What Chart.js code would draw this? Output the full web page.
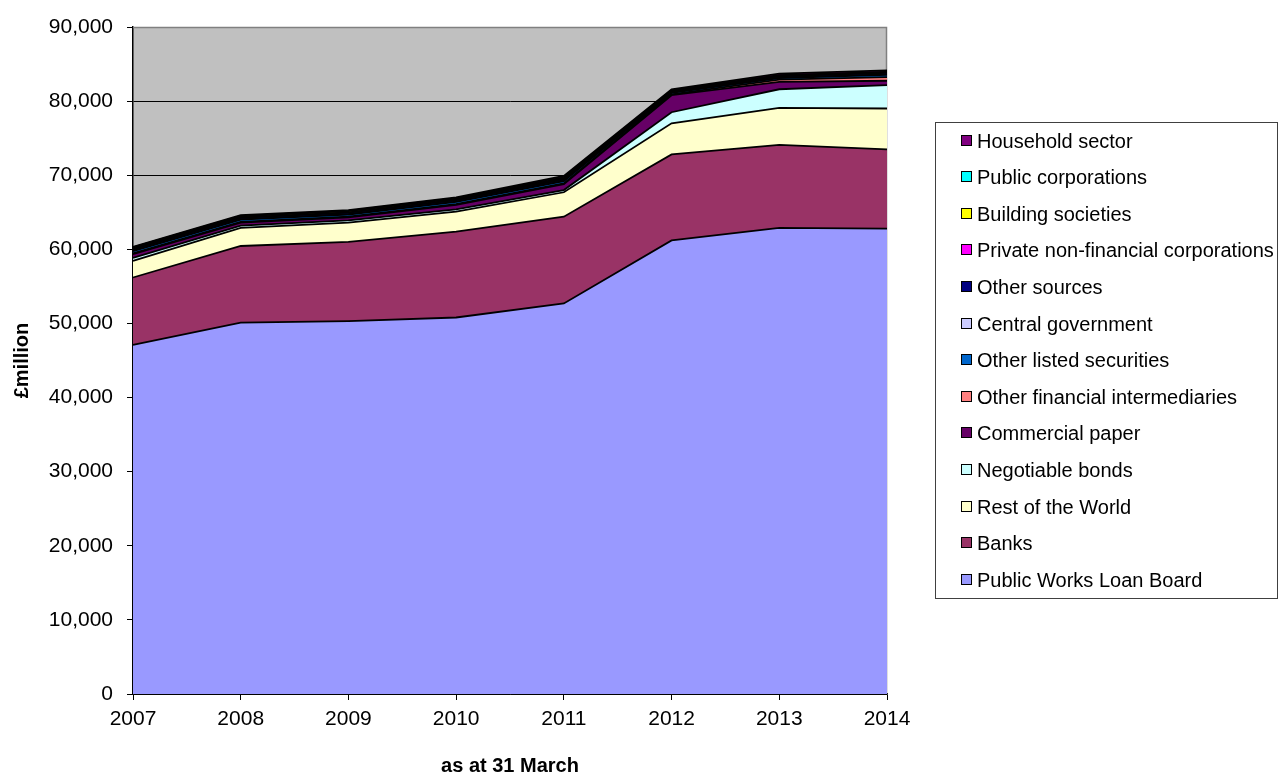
<!DOCTYPE html>
<html><head><meta charset="utf-8">
<script src="https://cdn.jsdelivr.net/npm/chart.js@4/dist/chart.umd.min.js"></script>
<style>
html,body{margin:0;padding:0;background:#fff;}
#wrap{position:relative;width:1279px;height:774px;}
#legend{position:absolute;left:935px;top:122px;width:343px;height:477px;border:1px solid #404040;box-sizing:border-box;font-family:'Liberation Sans',Arial,sans-serif;font-size:20px;color:#000;}
.item{position:absolute;left:0;height:24px;line-height:24px;white-space:nowrap;}
.sw{position:absolute;left:25px;top:6px;width:9px;height:9px;border:1px solid #000;}
.lb{position:absolute;left:41px;top:0;}
</style></head>
<body>
<div id="wrap">
<canvas id="c" width="1279" height="774"></canvas>
<div id="legend"></div>
</div>
<script>
const years = ['2007','2008','2009','2010','2011','2012','2013','2014'];
const yTicks = [0,10000,20000,30000,40000,50000,60000,70000,80000,90000];

const pwlb        = [47100, 50100, 50300, 50800, 52700, 61200, 62900, 62800];
const banks       = [9100, 10350, 10700, 11600, 11700, 11600, 11200, 10700];
const restWorld   = [2250, 2450, 2600, 2700, 3300, 4200, 5000, 5500];
const negBonds    = [400, 300, 300, 300, 300, 1500, 2500, 3150];
const commPaper   = [500, 400, 400, 600, 800, 2300, 1000, 600];
const otherFin    = [100, 100, 100, 100, 100, 100, 300, 500];
const otherListed = [300, 300, 300, 300, 300, 200, 200, 300];
const centralGov  = [50, 50, 50, 50, 50, 50, 50, 50];
const otherSrc    = [200, 200, 200, 200, 200, 100, 200, 200];
const privNFC     = [50, 50, 50, 50, 50, 50, 50, 50];
const buildSoc    = [150, 150, 150, 150, 150, 100, 50, 50];
const publicCorp  = [50, 50, 50, 50, 50, 50, 50, 50];
const household   = [100, 100, 100, 100, 200, 150, 200, 200];

const seriesNames = ['Public Works Loan Board','Banks','Rest of the World','Negotiable bonds','Commercial paper','Other financial intermediaries','Other listed securities','Central government','Other sources','Private non-financial corporations','Building societies','Public corporations','Household sector'];
const seriesData = [pwlb, banks, restWorld, negBonds, commPaper, otherFin, otherListed, centralGov, otherSrc, privNFC, buildSoc, publicCorp, household];
const seriesColors = ['#9999FF','#993366','#FFFFCC','#CCFFFF','#660066','#FF8080','#0066CC','#CCCCFF','#000080','#FF00FF','#FFFF00','#00FFFF','#800080'];

const datasets = seriesNames.map((n,i)=>({
  label: n,
  data: seriesData[i],
  backgroundColor: seriesColors[i],
  borderColor: '#000',
  borderWidth: 1.8,
  pointRadius: 0,
  pointHoverRadius: 0,
  tension: 0,
  fill: i === 0 ? 'origin' : '-1'
}));

const bgPlugin = {
  id: 'bg',
  beforeDraw(chart){
    const {ctx, chartArea:a} = chart;
    ctx.save();
    ctx.fillStyle = '#C0C0C0';
    ctx.fillRect(a.left, a.top, a.right-a.left, a.bottom-a.top);
    ctx.restore();
  },
  beforeDatasetsDraw(chart){
    const {ctx, chartArea:a} = chart;
    ctx.save();
    ctx.strokeStyle = '#808080';
    ctx.lineWidth = 1.5;
    ctx.beginPath();
    ctx.moveTo(a.left, a.top+0.5);
    ctx.lineTo(a.right-0.5, a.top+0.5);
    ctx.lineTo(a.right-0.5, a.bottom);
    ctx.stroke();
    ctx.restore();
  }
};

const FONT = "'Liberation Sans', Arial, sans-serif";

new Chart(document.getElementById('c'), {
  type: 'line',
  data: { labels: years, datasets },
  options: {
    responsive: false,
    animation: false,
    events: [],
    layout: { padding: { top: 27, right: 392, left: 0, bottom: 0 } },
    plugins: { legend: { display: false }, tooltip: { enabled: false } },
    scales: {
      x: {
        offset: false,
        grid: { drawOnChartArea: false, drawTicks: true, tickLength: 6, tickColor: '#000' },
        border: { color: '#000', width: 1.5 },
        ticks: { color: '#000', font: { family: FONT, size: 21 }, padding: 7, maxRotation: 0, autoSkip: false },
        title: { display: true, text: 'as at 31 March', color: '#000', font: { family: FONT, size: 20, weight: 'bold' }, padding: { top: 0, bottom: -4 } },
        afterFit(s){ s.height = 80; }
      },
      y: {
        stacked: true,
        min: 0, max: 90000,
        afterBuildTicks(s){ s.ticks = yTicks.map(v=>({value:v})); },
        grid: { color: '#000', lineWidth: 1, drawTicks: true, tickLength: 6, tickColor: '#000' },
        border: { color: '#000', width: 1.5 },
        ticks: { color: '#000', font: { family: FONT, size: 21 }, padding: 14, callback: v => v.toLocaleString('en-US') },
        title: { display: true, text: '£million', color: '#000', font: { family: FONT, size: 20, weight: 'bold' }, padding: { top: 10, bottom: 0 } },
        afterFit(s){ s.width = 133; }
      }
    }
  },
  plugins: [bgPlugin]
});

const leg = document.getElementById('legend');
for (let k = seriesNames.length - 1, j = 0; k >= 0; k--, j++) {
  const it = document.createElement('div');
  it.className = 'item';
  it.style.top = (5.7 + 36.58*j).toFixed(1) + 'px';
  const sw = document.createElement('span');
  sw.className = 'sw';
  sw.style.background = seriesColors[k];
  const lb = document.createElement('span');
  lb.className = 'lb';
  lb.textContent = seriesNames[k];
  it.appendChild(sw); it.appendChild(lb);
  leg.appendChild(it);
}
</script>
</body></html>
